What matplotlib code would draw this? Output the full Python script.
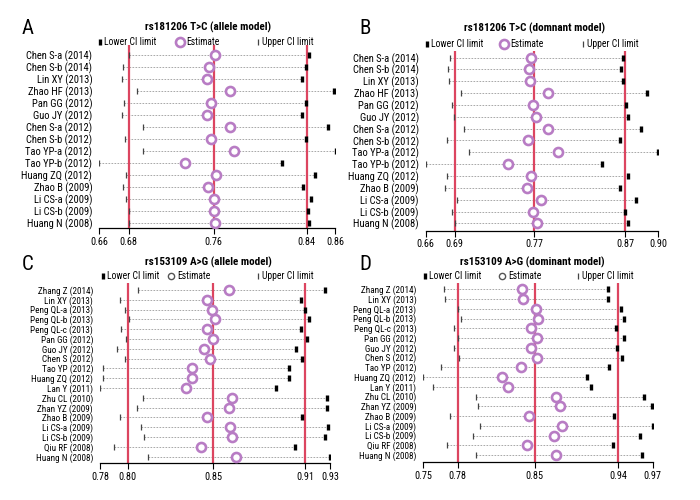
import matplotlib
matplotlib.use("Agg")
import matplotlib.pyplot as plt

plt.rcParams['font.family'] = ['Roboto Condensed', 'PT Sans Narrow', 'DejaVu Sans']

# ---- data ----
studies_ab = ['Chen S-a (2014)', 'Chen S-b (2014)', 'Lin XY (2013)', 'Zhao HF (2013)',
              'Pan GG (2012)', 'Guo JY (2012)', 'Chen S-a (2012)', 'Chen S-b (2012)',
              'Tao YP-a (2012)', 'Tao YP-b (2012)', 'Huang ZQ (2012)', 'Zhao B (2009)',
              'Li CS-a (2009)', 'Li CS-b (2009)', 'Huang N (2008)']
studies_cd = ['Zhang Z (2014)', 'Lin XY (2013)', 'Peng QL-a (2013)', 'Peng QL-b (2013)',
              'Peng QL-c (2013)', 'Pan GG (2012)', 'Guo JY (2012)', 'Chen S (2012)',
              'Tao YP (2012)', 'Huang ZQ (2012)', 'Lan Y (2011)', 'Zhu CL (2010)',
              'Zhan YZ (2009)', 'Zhao B (2009)', 'Li CS-a (2009)', 'Li CS-b (2009)',
              'Qiu RF (2008)', 'Huang N (2008)']

a_low = [0.685, 0.680, 0.679, 0.692, 0.681, 0.679, 0.697, 0.682, 0.697, 0.660,
         0.683, 0.680, 0.683, 0.685, 0.685]
a_est = [0.758, 0.753, 0.751, 0.771, 0.755, 0.751, 0.771, 0.755, 0.774, 0.733,
         0.759, 0.752, 0.757, 0.757, 0.758]
a_up = [0.838, 0.835, 0.832, 0.859, 0.835, 0.832, 0.854, 0.835, 0.861, 0.815,
        0.843, 0.833, 0.840, 0.837, 0.838]
a_pool = [0.685, 0.757, 0.836]
a_ticks = ['0.66', '0.68', '0.76', '0.84', '0.86']

b_low = [0.685, 0.683, 0.684, 0.696, 0.687, 0.689, 0.700, 0.682, 0.705, 0.660,
         0.682, 0.680, 0.692, 0.687, 0.690]
b_est = [0.769, 0.767, 0.768, 0.786, 0.771, 0.774, 0.786, 0.766, 0.797, 0.745,
         0.769, 0.765, 0.779, 0.771, 0.775]
b_up = [0.864, 0.862, 0.864, 0.888, 0.867, 0.869, 0.882, 0.860, 0.900, 0.842,
        0.869, 0.860, 0.877, 0.866, 0.869]
b_pool = [0.690, 0.772, 0.866]
b_ticks = ['0.66', '0.69', '0.77', '0.87', '0.90']

c_low = [0.805, 0.793, 0.796, 0.799, 0.794, 0.797, 0.791, 0.796, 0.782, 0.782,
         0.780, 0.808, 0.804, 0.793, 0.807, 0.809, 0.789, 0.811]
c_est = [0.864, 0.850, 0.853, 0.855, 0.850, 0.854, 0.848, 0.852, 0.840, 0.840,
         0.836, 0.866, 0.864, 0.850, 0.865, 0.866, 0.846, 0.869]
c_up = [0.927, 0.911, 0.914, 0.916, 0.911, 0.915, 0.908, 0.912, 0.903, 0.903,
        0.895, 0.928, 0.928, 0.912, 0.929, 0.927, 0.907, 0.930]
c_pool = [0.798, 0.854, 0.914]
c_ticks = ['0.78', '0.80', '0.85', '0.91', '0.93']

d_low = [0.770, 0.771, 0.783, 0.786, 0.779, 0.783, 0.779, 0.784, 0.767, 0.750,
         0.759, 0.801, 0.802, 0.776, 0.804, 0.798, 0.773, 0.801]
d_est = [0.845, 0.846, 0.858, 0.860, 0.853, 0.859, 0.853, 0.859, 0.844, 0.825,
         0.831, 0.877, 0.881, 0.851, 0.883, 0.875, 0.849, 0.877]
d_up = [0.927, 0.927, 0.940, 0.942, 0.935, 0.942, 0.936, 0.941, 0.928, 0.907,
        0.911, 0.962, 0.969, 0.933, 0.970, 0.958, 0.932, 0.960]
d_pool = [0.783, 0.857, 0.937]
d_ticks = ['0.75', '0.78', '0.85', '0.94', '0.97']

W, H = 700, 500
RED = '#dc4560'
PURPLE = '#b87cc4'

fig = plt.figure(figsize=(7, 5), dpi=100)


def panel(box, lims, pad, names, low, est, up, pool, ticks, yfs):
    left, right, top, bottom = box
    ax = fig.add_axes([left / W, 1 - bottom / H, (right - left) / W, (bottom - top) / H])
    n = len(names)
    y = list(range(n))
    for i in y:
        ax.plot([low[i], up[i]], [i, i], color='#9a9a9a', lw=0.6,
                linestyle=(0, (2, 1.6)), zorder=1)
    for p in pool:
        ax.axvline(p, color=RED, lw=1.6, zorder=2)
    ax.plot(low, y, linestyle='none', marker='|', ms=5, mew=0.9, color='#444444', zorder=3)
    ax.plot(up, y, linestyle='none', marker='|', ms=5, mew=2.4, color='black', zorder=3)
    ax.plot(est, y, linestyle='none', marker='o', ms=6.5, mew=1.9, mec=PURPLE,
            mfc='white', zorder=4)
    ax.set_xlim(lims)
    ax.set_ylim(n - 1 + pad[1], -pad[0])
    ax.set_xticks([lims[0]] + pool + [lims[1]])
    ax.set_xticklabels(ticks, fontsize=7.4)
    ax.set_yticks(y)
    ax.set_yticklabels(names, fontsize=yfs)
    ax.tick_params(axis='y', length=0, pad=5)
    ax.tick_params(axis='x', length=4, width=0.8, pad=2, direction='out')
    for s in ['top', 'right', 'left']:
        ax.spines[s].set_visible(False)
    ax.spines['bottom'].set_linewidth(0.9)
    ax.set_facecolor('none')
    return ax


panel((99.3, 335.0, 45, 228.3), (0.66, 0.86), (0.83, 0.47), studies_ab,
      a_low, a_est, a_up, a_pool, a_ticks, 7.6)
panel((425.7, 658.3, 50.5, 230.7), (0.66, 0.90), (0.6, 0.62), studies_ab,
      b_low, b_est, b_up, b_pool, b_ticks, 7.6)
panel((100.0, 330.0, 283.3, 463.3), (0.78, 0.93), (0.68, 0.67), studies_cd,
      c_low, c_est, c_up, c_pool, c_ticks, 6.6)
panel((423.3, 652.7, 283.0, 462.3), (0.75, 0.97), (0.65, 0.75), studies_cd,
      d_low, d_est, d_up, d_pool, d_ticks, 6.6)

# overlay for letters, titles and legends (pixel coordinates)
ov = fig.add_axes([0, 0, 1, 1], zorder=-1)
ov.set_xlim(0, W)
ov.set_ylim(H, 0)
ov.axis('off')

letters = [('A', 28, 29), ('B', 365, 29), ('C', 28, 264), ('D', 365, 264)]
for t, x, yy in letters:
    ov.text(x, yy, t, fontsize=15, ha='center', va='center')

titles = [('rs181206 T>C (allele model)', 208, 27),
          ('rs181206 T>C (domnant model)', 535, 28),
          ('rs153109 A>G (allele model)', 208, 262),
          ('rs153109 A>G (dominant model)', 532, 262)]
for t, x, yy in titles:
    ov.text(x, yy, t, fontsize=8, fontweight='bold', ha='center', va='center')

legends = [(100, 180, 258, 42, PURPLE, 1.9, 6.5),
           (427, 504, 583, 44, PURPLE, 1.9, 6.5),
           (103, 171, 258, 276, '#555555', 1.0, 4.5),
           (425, 502, 578, 276, '#555555', 1.0, 4.5)]
for xl, xe, xu, yy, ec, ew, ms in legends:
    ov.plot([xl], [yy], marker='|', ms=5, mew=2.4, color='black')
    ov.text(xl + 4, yy, 'Lower CI limit', fontsize=6.9, va='center')
    ov.plot([xe], [yy], marker='o', ms=ms, mew=ew, mec=ec, mfc='white')
    ov.text(xe + 6, yy, 'Estimate', fontsize=6.9, va='center')
    ov.plot([xu], [yy], marker='|', ms=5, mew=0.9, color='#444444')
    ov.text(xu + 4, yy, 'Upper CI limit', fontsize=6.9, va='center')

fig.savefig('out.png', dpi=100)
